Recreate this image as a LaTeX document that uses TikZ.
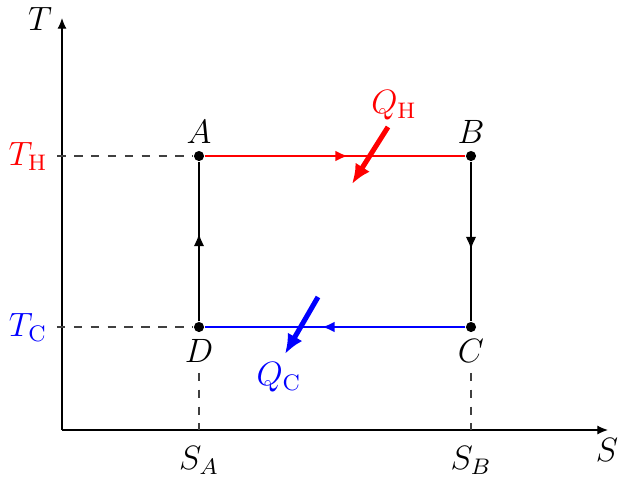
\documentclass[tikz,border=0pt]{standalone}
\usepackage{tikz}
\usetikzlibrary{arrows.meta,positioning,decorations.markings}
\tikzset{
  axisline/.style={-{Latex[length=3.8pt,width=3.2pt]},line width=0.4pt},
  guide/.style={dashed,line width=0.4pt,black!75},
  dot/.style={circle,fill=black,inner sep=0pt,minimum size=3.6pt},
  midarr/.style={postaction={decorate},
    decoration={markings,mark=at position 0.55 with {\arrow{Latex[length=4.5pt,width=3.8pt]}}}},
  stroke/.style={line width=0.8pt},
  heat/.style={-{Latex[length=7pt,width=6pt]},line width=1.8pt},
  every node/.style={font=\large}
}
\begin{document}
\begin{tikzpicture}[x=0.0125cm,y=0.0125cm]
  \useasboundingbox (0,0) rectangle (628,481);
  % axes
  \coordinate (O) at (62,51);
  \coordinate (Ttop) at (62,463);
  \coordinate (Send) at (608,51);
  \draw[axisline] (O) -- (Ttop);
  \draw[axisline] (O) -- (Send);
  \node (tlab) at (40,462) {$T$};
  \node (slab) at (607,31) {$S$};

  % corners of the cycle
  \node[dot] (A) at (199,325) {};
  \node[dot] (B) at (471,325) {};
  \node[dot] (C) at (471,154) {};
  \node[dot] (D) at (199,154) {};
  \node[above=-1pt of A] (alab) {$A$};
  \node[above=-1pt of B] (blab) {$B$};
  \node[below=-1pt of C] (clab) {$C$};
  \node[below=-1pt of D] (dlab) {$D$};

  % temperature and entropy marks
  \node[red] (thlab) at (28,325) {$T_{\mathrm{H}}$};
  \node[blue] (tclab) at (28,154) {$T_{\mathrm{C}}$};
  \node (salab) at (199,21) {$S_A$};
  \node (sblab) at (471,21) {$S_B$};
  \coordinate (SA) at (199,51);
  \coordinate (SB) at (471,51);
  \draw[guide] (thlab) -- (A);
  \draw[guide] (tclab) -- (D);
  \draw[guide] (dlab) -- (SA);
  \draw[guide] (clab) -- (SB);

  % the cycle
  \draw[stroke,red,midarr] (A) -- (B);
  \draw[stroke,midarr] (B) -- (C);
  \draw[stroke,blue,midarr] (C) -- (D);
  \draw[stroke,midarr] (D) -- (A);

  % heat flows
  \coordinate (qh1) at (388,354);
  \coordinate (qh2) at (352,297);
  \coordinate (qc1) at (318,184);
  \coordinate (qc2) at (285,127);
  \draw[heat,red] (qh1) -- (qh2);
  \draw[heat,blue] (qc1) -- (qc2);
  \node[red] (qhlab) at (394,376) {$Q_{\mathrm{H}}$};
  \node[blue] (qclab) at (279,104) {$Q_{\mathrm{C}}$};
\end{tikzpicture}
\end{document}
